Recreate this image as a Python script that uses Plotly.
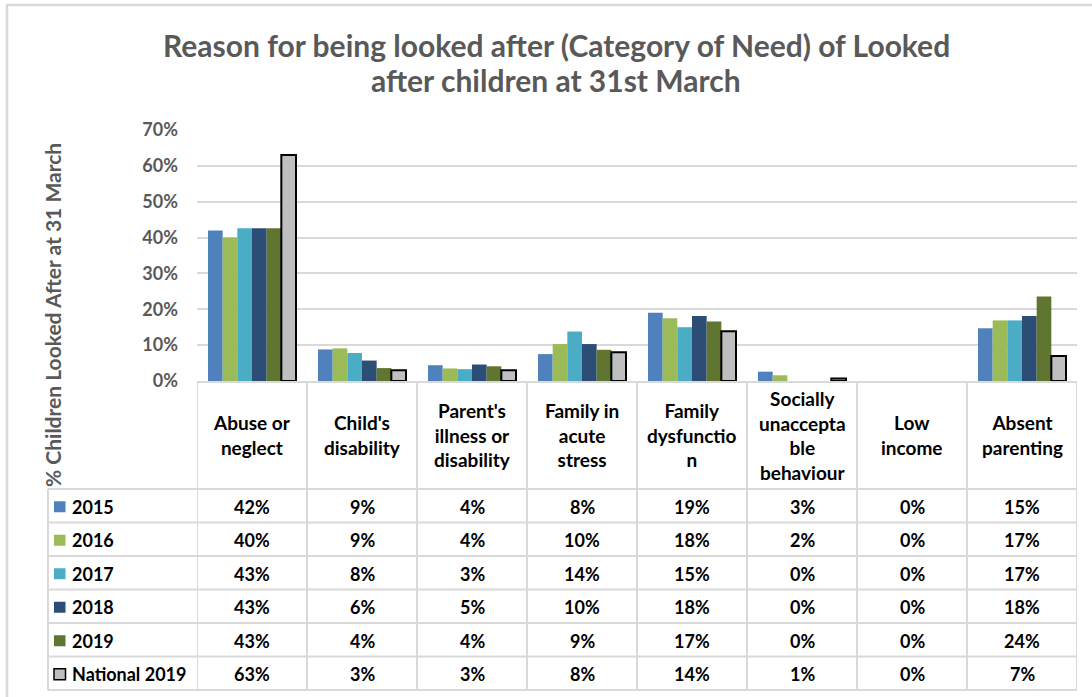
import math
import plotly.graph_objects as go

# ---------------- data ----------------
categories = [
    "Abuse or neglect", "Child's disability", "Parent's illness or disability",
    "Family in acute stress", "Family dysfunction", "Socially unacceptable behaviour",
    "Low income", "Absent parenting",
]
header_labels = [
    "Abuse or<br>neglect", "Child's<br>disability", "Parent's<br>illness or<br>disability",
    "Family in<br>acute<br>stress", "Family<br>dysfunctio<br>n", "Socially<br>unaccepta<br>ble<br>behaviour",
    "Low<br>income", "Absent<br>parenting",
]
series_names = ["2015", "2016", "2017", "2018", "2019", "National 2019"]
v2015 = [42.0, 8.8, 4.4, 7.5, 19.0, 2.6, 0.0, 14.7]
v2016 = [40.0, 9.1, 3.5, 10.3, 17.5, 1.6, 0.0, 16.9]
v2017 = [42.6, 7.8, 3.3, 13.8, 15.0, 0.0, 0.0, 16.9]
v2018 = [42.6, 5.7, 4.6, 10.3, 18.1, 0.0, 0.0, 18.1]
v2019 = [42.6, 3.6, 4.1, 8.7, 16.6, 0.0, 0.0, 23.6]
vNational = [63.0, 3.0, 3.0, 8.0, 13.9, 0.7, 0.0, 7.0]
series_values = [v2015, v2016, v2017, v2018, v2019, vNational]
colors = ["#4F81BD", "#9BBB59", "#4BACC6", "#2C4D75", "#5F7530", "#BFBFBF"]
y_ticks = [0, 10, 20, 30, 40, 50, 60, 70]
y_ticktext = [f"{t}%" for t in y_ticks]
title_lines = ["Reason for being looked after (Category of Need) of Looked",
               "after children at 31st March"]
y_title = "% Children Looked After at 31 March"

# ---------------- layout geometry (pixels) ----------------
W, H = 1092, 697
PL, PR, PT, PB = 197, 1077, 130, 381
GRID = "#D9D9D9"
GREY_TXT = "#595959"
FONT = "Lato"


def px(x):
    return (x - PL) / (PR - PL)


def py(y):
    return (PB - y) / (PB - PT)


def bfont(size, color):
    return dict(family=FONT, size=size, color=color, weight="bold")


fig = go.Figure()
for name, vals, col in zip(series_names, series_values, colors):
    nat = name.startswith("National")
    widths = [(2 if v > 0 else 0) if nat else 0 for v in vals]
    fig.add_trace(go.Bar(
        x=categories, y=vals, name=name,
        marker=dict(color=col, line=dict(color="#000000" if nat else col, width=widths)),
        showlegend=False, hoverinfo="x+y+name",
    ))

shapes = []
annotations = []

# outer chart border (top & left visible)
shapes.append(dict(type="line", xref="paper", yref="paper", x0=px(6), x1=px(1100),
                   y0=py(5), y1=py(5), line=dict(color=GRID, width=2.5)))
shapes.append(dict(type="line", xref="paper", yref="paper", x0=px(7), x1=px(7),
                   y0=py(4), y1=py(700), line=dict(color=GRID, width=2.5)))

# data table grid
header_bottom = 489
row_h = (690 - header_bottom) / len(series_names)
row_lines = [header_bottom + i * row_h for i in range(len(series_names) + 1)]
for yl in row_lines:
    shapes.append(dict(type="line", xref="paper", yref="paper", x0=px(48), x1=px(PR),
                       y0=py(yl), y1=py(yl), line=dict(color=GRID, width=2)))
n = len(categories)
for i in range(n + 1):
    shapes.append(dict(type="line", xref="x", yref="paper", x0=i - 0.5, x1=i - 0.5,
                       y0=py(PB), y1=py(690), line=dict(color=GRID, width=2)))
shapes.append(dict(type="line", xref="paper", yref="paper", x0=px(48), x1=px(48),
                   y0=py(header_bottom), y1=py(690), line=dict(color=GRID, width=2)))

# header labels
for cat, lab in zip(categories, header_labels):
    annotations.append(dict(x=cat, xref="x", y=py((PB + header_bottom) / 2), yref="paper",
                            text=lab, showarrow=False, xanchor="center", yanchor="middle",
                            align="center", font=bfont(19, "#000000")))

# rows: legend keys, names, values
for r, (name, vals, col) in enumerate(zip(series_names, series_values, colors)):
    yc = row_lines[r] + row_h / 2 + 1
    nat = name.startswith("National")
    shapes.append(dict(type="rect", xref="paper", yref="paper",
                       x0=px(54), x1=px(65.5), y0=py(yc - 5.5), y1=py(yc + 5.5),
                       fillcolor=col,
                       line=dict(color="#000000" if nat else col, width=1.5 if nat else 0)))
    annotations.append(dict(x=px(70), xref="paper", y=py(yc), yref="paper", text=name,
                            showarrow=False, xanchor="left", yanchor="middle",
                            font=bfont(18, "#000000")))
    for cat, v in zip(categories, vals):
        annotations.append(dict(x=cat, xref="x", y=py(yc), yref="paper",
                                text=f"{math.floor(v + 0.5)}%", showarrow=False,
                                xanchor="center", yanchor="middle",
                                font=bfont(18, "#000000")))

# title
for ln, yc in zip(title_lines, [45, 80]):
    annotations.append(dict(x=px(556), xref="paper", y=py(yc), yref="paper", text=ln,
                            showarrow=False, xanchor="center", yanchor="middle",
                            font=bfont(30, GREY_TXT)))

# y axis title
annotations.append(dict(x=px(52), xref="paper", y=py(315), yref="paper", text=y_title,
                        textangle=-90, showarrow=False, xanchor="center", yanchor="middle",
                        font=bfont(21, GREY_TXT)))

fig.update_layout(
    width=W, height=H,
    margin=dict(l=PL, r=W - PR, t=PT, b=H - PB, autoexpand=False),
    paper_bgcolor="#FFFFFF", plot_bgcolor="#FFFFFF",
    barmode="group", bargap=0.2, bargroupgap=0,
    shapes=shapes, annotations=annotations,
    font=dict(family=FONT, color=GREY_TXT),
    xaxis=dict(showticklabels=False, showgrid=False, showline=True, linecolor=GRID,
               linewidth=2, ticks="", zeroline=False, range=[-0.5, n - 0.5]),
    yaxis=dict(range=[0, 70], tickmode="array", tickvals=y_ticks, ticktext=y_ticktext,
               showgrid=True, gridcolor=GRID, gridwidth=2, zeroline=False,
               showline=False, ticks="", ticklabelstandoff=18,
               tickfont=bfont(18, GREY_TXT)),
)

fig.write_html("out.html")
